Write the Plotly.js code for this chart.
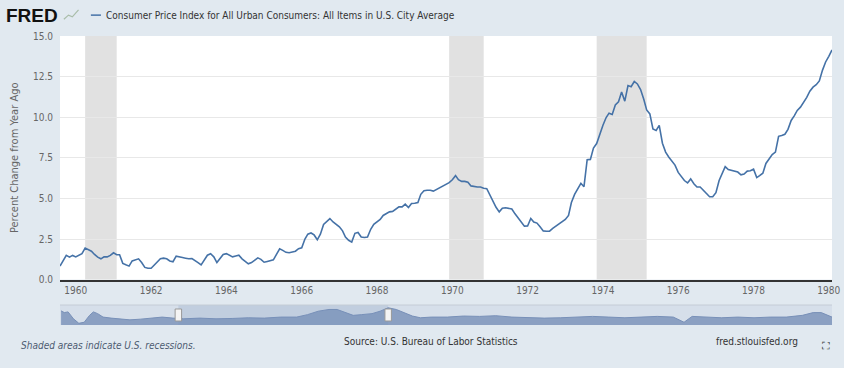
<!DOCTYPE html>
<html>
<head>
<meta charset="utf-8">
<script src="https://cdn.plot.ly/plotly-3.0.1.min.js"></script>
<style>
html,body{margin:0;padding:0;background:#e1e9f0;}
#chart{width:844px;height:368px;}
</style>
</head>
<body>
<div id="chart"></div>
<script>
// ---- Data ----
const seriesName = 'Consumer Price Index for All Urban Consumers: All Items in U.S. City Average';
const startYear = 1959, startMonthIndex = 7; // August 1959
// Percent change from year ago, monthly
const cpiYoY = [
  0.83, 1.20, 1.49, 1.38, 1.49,                                          // 1959 Aug-Dec
  1.40, 1.50, 1.60, 1.94, 1.85, 1.75, 1.55, 1.38, 1.28, 1.40, 1.40, 1.49, // 1960
  1.65, 1.53, 1.53, 1.00, 0.91, 0.83, 1.15, 1.20, 1.28, 1.05, 0.75, 0.70, // 1961
  0.70, 0.90, 1.08, 1.28, 1.32, 1.28, 1.15, 1.10, 1.44, 1.38, 1.36, 1.32, // 1962
  1.28, 1.30, 1.20, 1.05, 0.91, 1.20, 1.50, 1.59, 1.40, 1.05, 1.28, 1.55, // 1963
  1.60, 1.50, 1.40, 1.45, 1.50, 1.28, 1.10, 0.97, 1.05, 1.18, 1.34, 1.25, // 1964
  1.07, 1.12, 1.15, 1.22, 1.55, 1.90, 1.80, 1.68, 1.65, 1.70, 1.75, 1.90, // 1965
  1.96, 2.50, 2.80, 2.87, 2.75, 2.45, 2.80, 3.40, 3.60, 3.76, 3.55, 3.40, // 1966
  3.25, 3.00, 2.62, 2.42, 2.31, 2.85, 2.90, 2.62, 2.59, 2.62, 3.10, 3.40, // 1967
  3.58, 3.70, 3.95, 4.05, 4.17, 4.20, 4.35, 4.48, 4.48, 4.65, 4.44, 4.69, // 1968
  4.70, 4.75, 5.25, 5.47, 5.50, 5.50, 5.45, 5.55, 5.69, 5.78, 5.87, 5.97, // 1969
  6.15, 6.40, 6.15, 6.05, 6.05, 6.00, 5.77, 5.72, 5.70, 5.70, 5.62, 5.60, // 1970
  5.20, 4.75, 4.45, 4.17, 4.40, 4.42, 4.40, 4.35, 4.05, 3.80, 3.50, 3.29, // 1971
  3.30, 3.76, 3.55, 3.48, 3.25, 3.00, 2.98, 2.98, 3.15, 3.30, 3.41, 3.55, // 1972
  3.70, 3.95, 4.75, 5.25, 5.55, 5.93, 5.72, 7.38, 7.40, 8.10, 8.38, 8.95, // 1973
  9.50, 9.98, 10.25, 10.17, 10.75, 10.95, 11.55, 10.99, 11.95, 11.88, 12.20, 12.05, // 1974
  11.70, 11.10, 10.45, 10.20, 9.28, 9.18, 9.50, 8.40, 7.85, 7.55, 7.30, 7.05, // 1975
  6.60, 6.30, 6.10, 5.95, 6.20, 5.90, 5.70, 5.70, 5.50, 5.30, 5.10, 5.10, // 1976
  5.35, 6.10, 6.55, 6.96, 6.78, 6.72, 6.70, 6.62, 6.45, 6.50, 6.68, 6.70, // 1977
  6.80, 6.28, 6.40, 6.55, 7.15, 7.40, 7.70, 7.85, 8.82, 8.88, 8.95, 9.25, // 1978
  9.80, 10.10, 10.42, 10.62, 10.90, 11.22, 11.60, 11.85, 12.00, 12.23, 12.90, 13.40, // 1979
  13.75, 14.14                                                             // 1980 Jan-Feb
];
const recessionStarts = ['1960-04-01', '1969-12-01', '1973-11-01'];
const recessionEnds   = ['1961-02-01', '1970-11-01', '1975-03-01'];
const yTickValues = [0, 2.5, 5, 7.5, 10, 12.5, 15];
const yTickLabels = ['0.0', '2.5', '5.0', '7.5', '10.0', '12.5', '15.0'];
// Navigator (range-selector mini chart) — relative position along its track and relative height
const navPos = [112,118,125,135,145,155,165,172,180,190,205,220,240,260,280,300,320,340,370,400,430,460,490,520,550,570,590,610,625,640,655,670,690,705,720,735,750,765,780,800,830,860,890,920,950,980,1010,1040,1070,1100,1130,1160,1190,1220,1250,1270,1285,1310,1340,1370,1400,1430,1460,1490,1510,1525,1545];
const navHeight = [41,36,38,18,5,8,28,38,33,23,20,18,15,17,21,23,20,18,20,18,19,21,20,23,23,30,40,45,45,36,28,30,33,40,50,45,36,26,21,23,23,26,25,27,23,21,20,21,23,25,23,21,23,25,23,8,25,23,21,23,21,23,23,28,36,36,23];
const navWindow = [330, 720];

// ---- Build dates ----
function pad(n){return (n<10?'0':'')+n;}
const dates = cpiYoY.map((v, i) => {
  const t = startMonthIndex + i;
  const y = startYear + Math.floor(t / 12);
  const m = t % 12 + 1;
  return y + '-' + pad(m) + '-01';
});

const FONT = '"Liberation Sans Narrow", "DejaVu Sans Condensed", "Open Sans", sans-serif';
const LINE = '#4572a7';

const traces = [
  {
    x: dates, y: cpiYoY, type: 'scatter', mode: 'lines', name: seriesName,
    line: {color: LINE, width: 1.6}, xaxis: 'x', yaxis: 'y', hoverinfo: 'x+y'
  },
  {
    x: navPos, y: navHeight, type: 'scatter', mode: 'lines', fill: 'tozeroy',
    line: {color: '#7890b8', width: 1}, fillcolor: 'rgba(120,144,184,0.8)',
    xaxis: 'x2', yaxis: 'y2', hoverinfo: 'skip'
  }
];

const shapes = [];
for (let i = 0; i < recessionStarts.length; i++) {
  shapes.push({type: 'rect', xref: 'x', yref: 'y domain', x0: recessionStarts[i], x1: recessionEnds[i],
    y0: 0, y1: 1, fillcolor: '#e1e1e1', line: {width: 0}, layer: 'below'});
}
// navigator background and selected window
shapes.push({type: 'rect', xref: 'x2 domain', yref: 'y2 domain', x0: 0, x1: 1, y0: 0, y1: 1,
  fillcolor: '#d6dfea', line: {width: 0}, layer: 'below'});
shapes.push({type: 'rect', xref: 'x2', yref: 'y2 domain', x0: navWindow[0], x1: navWindow[1], y0: 0, y1: 1,
  fillcolor: 'rgba(120,145,185,0.22)', line: {width: 0}, layer: 'above'});
shapes.push({type: 'line', xref: 'x2 domain', yref: 'y2 domain', x0: 0, x1: 1, y0: 1, y1: 1,
  line: {color: '#c4ccd6', width: 1}});
navWindow.forEach(p => {
  shapes.push({type: 'rect', xref: 'x2', yref: 'y2 domain', x0: p - 6, x1: p + 6, y0: 0.2, y1: 0.8,
    fillcolor: '#f4f4f4', line: {color: '#999', width: 1}, layer: 'above'});
});
// legend swatch
shapes.push({type: 'line', xref: 'paper', yref: 'paper', x0: 0.040, x1: 0.053, y0: 1.072, y1: 1.072,
  line: {color: LINE, width: 1.5}});
// FRED logo small chart icon
shapes.push({type: 'path', xref: 'paper', yref: 'paper',
  path: 'M 0.005 1.058 L 0.011 1.072 L 0.016 1.066 L 0.024 1.090',
  line: {color: '#a9bda9', width: 1.2}});

const layout = {
  width: 844, height: 368,
  paper_bgcolor: '#e1e9f0', plot_bgcolor: '#ffffff',
  margin: {l: 60, r: 12, t: 36, b: 42},
  showlegend: false,
  font: {family: FONT, size: 10, color: '#666'},
  xaxis: {
    type: 'date', range: [dates[0], dates[dates.length - 1]],
    domain: [0, 1], anchor: 'y',
    tick0: '1960-01-01', dtick: 'M24', tickformat: '%Y',
    showgrid: false, showline: true, linecolor: '#333', linewidth: 2,
    ticks: '', tickfont: {family: FONT, size: 10, color: '#666'}, zeroline: false
  },
  yaxis: {
    domain: [0.16, 1], anchor: 'x', range: [0, 15],
    tickvals: yTickValues, ticktext: yTickLabels,
    showgrid: true, gridcolor: '#e8e8e8', gridwidth: 1, zeroline: false,
    showline: false, ticks: '', ticklabelstandoff: 6,
    tickfont: {family: FONT, size: 10, color: '#666'},
    title: {text: 'Percent Change from Year Ago', font: {family: FONT, size: 11, color: '#666'}, standoff: 12}
  },
  xaxis2: {
    domain: [0, 1], anchor: 'y2', range: [110, 1545],
    showgrid: false, showticklabels: false, zeroline: false, showline: false, ticks: ''
  },
  yaxis2: {
    domain: [0.0034, 0.0724], anchor: 'x2', range: [0, 58],
    showgrid: false, showticklabels: false, zeroline: false, showline: false, ticks: ''
  },
  shapes: shapes,
  annotations: [
    {xref: 'paper', yref: 'paper', x: -0.072, y: 1.072, xanchor: 'left', yanchor: 'middle', showarrow: false,
     text: '<b>FRED</b>', font: {family: '"Liberation Sans", Arial, sans-serif', size: 19, color: '#111'}},
    {xref: 'paper', yref: 'paper', x: 0.057, y: 1.072, xanchor: 'left', yanchor: 'middle', showarrow: false,
     text: seriesName, font: {family: FONT, size: 10, color: '#333'}},
    {xref: 'paper', yref: 'paper', x: -0.053, y: -0.066, xanchor: 'left', yanchor: 'middle', showarrow: false,
     text: '<i>Shaded areas indicate U.S. recessions.</i>', font: {family: FONT, size: 10, color: '#4d5b70'}},
    {xref: 'paper', yref: 'paper', x: 0.481, y: -0.055, xanchor: 'center', yanchor: 'middle', showarrow: false,
     text: 'Source: U.S. Bureau of Labor Statistics', font: {family: FONT, size: 10, color: '#333'}},
    {xref: 'paper', yref: 'paper', x: 0.9585, y: -0.055, xanchor: 'right', yanchor: 'middle', showarrow: false,
     text: 'fred.stlouisfed.org', font: {family: FONT, size: 10, color: '#333'}},
    {xref: 'paper', yref: 'paper', x: 0.992, y: -0.072, xanchor: 'center', yanchor: 'middle', showarrow: false,
     text: '⛶', font: {family: '"DejaVu Sans", sans-serif', size: 11, color: '#333'}}
  ]
};

Plotly.newPlot('chart', traces, layout, {displayModeBar: false, staticPlot: true});
</script>
</body>
</html>
